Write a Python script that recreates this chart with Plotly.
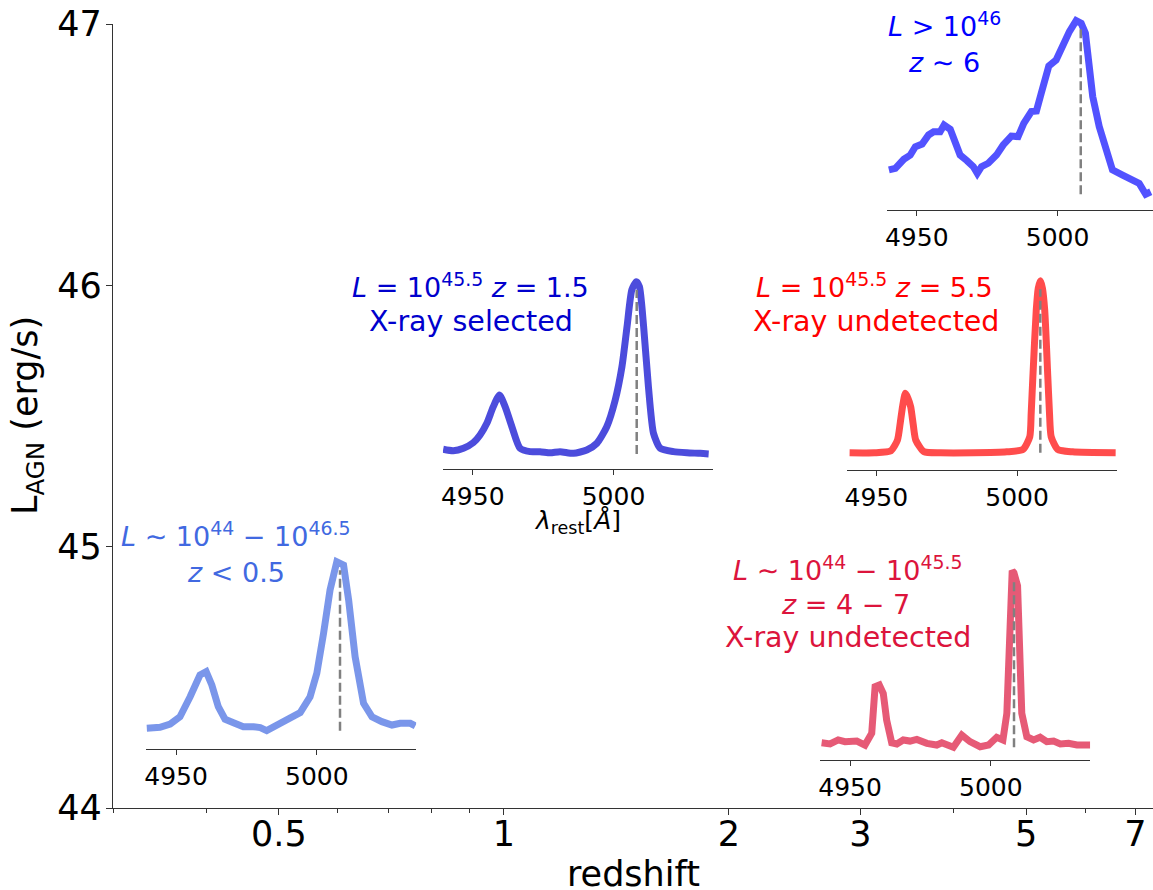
import math
import plotly.graph_objects as go

# ---------------- data ----------------
z_tickvals = [0.5, 1, 2, 3, 5, 7]
z_ticktext = ["0.5", "1", "2", "3", "5", "7"]
z_minor = [0.3, 0.4, 0.6, 0.7, 0.8, 0.9, 4, 6]
z_range = [0.3, 7.39]
L_tickvals = [44, 45, 46, 47]
L_range = [44, 47]

wl_ticks = [4950, 5000]
oiii_rest = 5008.24

# inset 1: L > 1e46, z ~ 6
wl_1 = [4940.1, 4942.4, 4945.4, 4947.7, 4949.5, 4951.9, 4954.2, 4956.0, 4958.3, 4959.7,
        4961.9, 4963.6, 4965.4, 4967.8, 4970.1, 4971.5, 4973.0, 4975.4, 4978.3, 4980.7,
        4983.6, 4986.0, 4988.0, 4990.7, 4992.5, 4994.2, 4996.9, 4999.5, 5001.9, 5004.2,
        5006.6, 5008.4, 5009.9, 5011.3, 5012.5, 5014.8, 5017.2, 5019.5, 5023.1, 5026.6,
        5029.0, 5031.3, 5033.1]
fl_1 = [0.211, 0.219, 0.267, 0.289, 0.333, 0.347, 0.395, 0.412, 0.412, 0.447,
        0.425, 0.368, 0.289, 0.260, 0.228, 0.193, 0.228, 0.246, 0.289, 0.342,
        0.389, 0.386, 0.456, 0.518, 0.521, 0.614, 0.758, 0.789, 0.868, 0.939,
        0.996, 0.982, 0.930, 0.772, 0.596, 0.439, 0.316, 0.211, 0.184, 0.158,
        0.140, 0.083, 0.096]

# inset 2: L = 1e45.5, z = 1.5, X-ray selected
wl_2 = [4939.5, 4943.1, 4946.7, 4950.2, 4952.6, 4955.0, 4957.3, 4959.5, 4961.5, 4963.9,
        4966.8, 4970.4, 4973.9, 4977.5, 4981.0, 4985.8, 4990.5, 4994.1, 4997.6, 5000.6,
        5003.0, 5004.8, 5006.5, 5008.1, 5009.2, 5010.7, 5012.4, 5014.2, 5016.6, 5021.3,
        5026.1, 5030.8, 5033.8]
fl_2 = [0.107, 0.099, 0.112, 0.142, 0.183, 0.245, 0.334, 0.396, 0.334, 0.227,
        0.112, 0.094, 0.094, 0.088, 0.094, 0.085, 0.103, 0.139, 0.227, 0.369,
        0.547, 0.760, 0.956, 1.000, 0.973, 0.760, 0.440, 0.192, 0.112, 0.094,
        0.088, 0.085, 0.082]

# inset 3: L = 1e45.5, z = 5.5, X-ray undetected
wl_3 = [4940.5, 4949.3, 4955.2, 4957.5, 4958.5, 4959.3, 4960.3, 4961.2, 4962.2, 4963.1,
        4964.0, 4966.9, 4972.8, 4984.5, 4996.3, 5002.1, 5004.5, 5005.0, 5005.6, 5006.8,
        5007.5, 5008.3, 5009.0, 5009.8, 5010.9, 5011.5, 5012.1, 5014.4, 5019.7, 5035.0]
fl_3 = [0.091, 0.091, 0.102, 0.158, 0.250, 0.334, 0.405, 0.380, 0.334, 0.240,
        0.158, 0.097, 0.091, 0.091, 0.096, 0.109, 0.176, 0.300, 0.493, 0.845,
        0.960, 1.000, 0.960, 0.845, 0.493, 0.300, 0.176, 0.109, 0.096, 0.091]

# inset 4: L ~ 1e44 - 1e46.5, z < 0.5
wl_4 = [4939.6, 4944.3, 4947.9, 4951.4, 4955.0, 4958.5, 4960.7, 4962.7, 4965.0, 4967.4,
        4970.4, 4973.9, 4977.5, 4979.9, 4982.2, 4985.8, 4989.4, 4994.1, 4997.6, 5000.0,
        5002.4, 5004.7, 5007.1, 5009.5, 5011.3, 5013.6, 5016.6, 5019.6, 5023.1, 5026.7,
        5029.6, 5033.2, 5035.0]
fl_4 = [0.111, 0.116, 0.133, 0.172, 0.279, 0.395, 0.413, 0.342, 0.226, 0.159,
        0.140, 0.119, 0.119, 0.114, 0.098, 0.128, 0.151, 0.194, 0.279, 0.404,
        0.618, 0.849, 1.000, 0.982, 0.796, 0.493, 0.244, 0.172, 0.146, 0.128,
        0.137, 0.137, 0.123]

# inset 5: L ~ 1e44 - 1e45.5, z = 4 - 7, X-ray undetected
wl_5 = [4939.9, 4942.9, 4945.8, 4948.2, 4952.4, 4955.3, 4957.7, 4958.9, 4960.4, 4961.8,
        4963.0, 4964.8, 4966.6, 4968.9, 4971.3, 4973.7, 4977.3, 4980.8, 4982.6, 4986.7,
        4989.7, 4992.6, 4996.2, 4999.2, 5002.1, 5004.3, 5005.7, 5007.1, 5007.6, 5008.2,
        5009.5, 5011.0, 5012.8, 5015.2, 5017.5, 5019.9, 5022.3, 5024.7, 5027.6, 5030.6,
        5035.3]
fl_5 = [0.091, 0.085, 0.106, 0.097, 0.100, 0.079, 0.141, 0.387, 0.396, 0.352,
        0.211, 0.091, 0.085, 0.106, 0.100, 0.109, 0.088, 0.079, 0.091, 0.067,
        0.132, 0.097, 0.070, 0.079, 0.120, 0.106, 0.247, 0.810, 1.000, 0.990,
        0.920, 0.247, 0.123, 0.106, 0.120, 0.097, 0.100, 0.085, 0.088, 0.079,
        0.079]

# ---------------- layout helpers (pixel geometry) ----------------
FIG_W, FIG_H = 1153, 890
PL, PR, PB = 113, 1153, 808      # plot area: left, right, bottom (top = 0)
MAIN_TOP = 24


def fx(px):
    return (px - PL) / (PR - PL)


def fy(py):
    return (PB - py) / PB


FONT = "DejaVu Sans"
fig = go.Figure()

# main (empty) axes
fig.add_trace(go.Scatter(x=[], y=[], xaxis="x", yaxis="y", showlegend=False))

# inset definitions: spectra + placement
insets = [
    dict(wl=wl_1, fl=fl_1, color="rgba(0,0,255,0.68)", left=886.9, right=1153,
         xr=[4939.4, 5033.9], axis=210, top=0, yr=[0, 1.105], shape="linear"),
    dict(wl=wl_2, fl=fl_2, color="rgba(0,0,205,0.7)", left=442.9, right=712.9,
         xr=[4939.4, 5035.3], axis=469.3, top=262.9, yr=[0, 1.1], shape="spline"),
    dict(wl=wl_3, fl=fl_3, color="rgba(255,0,0,0.7)", left=846.5, right=1116.5,
         xr=[4939.4, 5035.3], axis=470, top=261.8, yr=[0, 1.1], shape="spline"),
    dict(wl=wl_4, fl=fl_4, color="rgba(65,105,225,0.7)", left=146.2, right=416.2,
         xr=[4939.4, 5035.3], axis=749, top=543, yr=[0, 1.1], shape="linear"),
    dict(wl=wl_5, fl=fl_5, color="rgba(220,20,60,0.7)", left=820.2, right=1090.2,
         xr=[4939.4, 5035.3], axis=760, top=551.8, yr=[0, 1.1], shape="linear"),
]

layout_axes = {}
for i, ins in enumerate(insets, start=2):
    xa, ya = f"x{i}", f"y{i}"
    fig.add_trace(go.Scatter(
        x=ins["wl"], y=ins["fl"], mode="lines", xaxis=xa, yaxis=ya,
        line=dict(color=ins["color"], width=7, shape=ins["shape"], smoothing=0.6),
        showlegend=False, hoverinfo="skip"))
    fmin, fmax = min(ins["fl"]), max(ins["fl"])
    fig.add_trace(go.Scatter(
        x=[oiii_rest, oiii_rest], y=[fmin, 0.955 * fmax], mode="lines",
        xaxis=xa, yaxis=ya,
        line=dict(color="rgb(128,128,128)", width=2.5, dash="9px,4px"),
        showlegend=False, hoverinfo="skip"))
    layout_axes[f"xaxis{i}"] = dict(
        domain=[fx(ins["left"]), fx(ins["right"])], range=ins["xr"], anchor=ya,
        showline=True, linecolor="#333", linewidth=1.2, ticks="outside", ticklen=5,
        tickwidth=1.2, tickcolor="#333", tickvals=wl_ticks,
        ticktext=[str(v) for v in wl_ticks], showgrid=False, zeroline=False,
        tickfont=dict(family=FONT, size=25, color="black"))
    layout_axes[f"yaxis{i}"] = dict(
        domain=[fy(ins["axis"]), fy(ins["top"])], range=ins["yr"], anchor=xa,
        visible=False, showgrid=False, zeroline=False)

fig.update_layout(
    width=FIG_W, height=FIG_H,
    margin=dict(l=PL, r=FIG_W - PR, t=0, b=FIG_H - PB, pad=0, autoexpand=False),
    paper_bgcolor="white", plot_bgcolor="rgba(0,0,0,0)",
    xaxis=dict(type="log", range=[math.log10(z_range[0]), math.log10(z_range[1])],
               domain=[0, 1], anchor="y",
               tickvals=z_tickvals, ticktext=z_ticktext, ticks="outside",
               ticklen=6, tickwidth=1.2, tickcolor="#333", ticklabelstandoff=-11,
               showline=True, linecolor="#333", linewidth=1.2,
               showgrid=False, zeroline=False,
               minor=dict(tickvals=z_minor, ticks="outside", ticklen=3.5,
                          tickwidth=1, tickcolor="#333", showgrid=False),
               tickfont=dict(family=FONT, size=35, color="black")),
    yaxis=dict(range=L_range, domain=[0, fy(MAIN_TOP)], anchor="x",
               tickvals=L_tickvals, ticktext=[str(v) for v in L_tickvals],
               ticks="outside", ticklen=6, tickwidth=1.2, tickcolor="#333",
               ticklabelstandoff=-3,
               showline=True, linecolor="#333", linewidth=1.2,
               showgrid=False, zeroline=False,
               tickfont=dict(family=FONT, size=35, color="black")),
    **layout_axes,
)

# ---------------- text ----------------
labels = [
    # (text, center_x_px, baseline_px, color, size)
    ("<i>L</i> &gt; 10<sup>46</sup>", 944, 36, "rgb(0,0,255)", 27),
    ("<i>z</i> ∼ 6", 943.5, 71.7, "rgb(0,0,255)", 27),
    ("<i>L</i> = 10<sup>45.5</sup> <i>z</i> = 1.5", 470, 296.7, "rgb(0,0,205)", 27),
    ("X-ray selected", 470.8, 331, "rgb(0,0,205)", 28.5),
    ("<i>L</i> = 10<sup>45.5</sup> <i>z</i> = 5.5", 874, 296.7, "rgb(255,0,0)", 27),
    ("X-ray undetected", 875.5, 331, "rgb(255,0,0)", 28.5),
    ("<i>L</i> ∼ 10<sup>44</sup> − 10<sup>46.5</sup>", 235.8, 546, "rgb(65,105,225)", 27),
    ("<i>z</i> &lt; 0.5", 235.8, 581.7, "rgb(65,105,225)", 27),
    ("<i>L</i> ∼ 10<sup>44</sup> − 10<sup>45.5</sup>", 847.5, 579.3, "rgb(220,20,60)", 27),
    ("<i>z</i> = 4 − 7", 845.8, 613.3, "rgb(220,20,60)", 27),
    ("X-ray undetected", 848.3, 647.3, "rgb(220,20,60)", 28.5),
    ("<i>λ</i><sub>rest</sub>[<i>Å</i>]", 577, 532, "black", 25),
    ("redshift", 633, 886, "black", 35),
]
for text, cx, base, col, size in labels:
    fig.add_annotation(
        text=text, xref="paper", yref="paper", x=fx(cx),
        y=fy(base + 0.236 * size + 2), xanchor="center", yanchor="bottom",
        showarrow=False, font=dict(family=FONT, size=size, color=col))

fig.add_annotation(
    text="L<sub>AGN</sub> (erg/s)", xref="paper", yref="paper",
    x=fx(27), y=fy(416), xanchor="center", yanchor="middle", textangle=-90,
    showarrow=False, font=dict(family=FONT, size=35, color="black"))

fig.write_html("out.html")
